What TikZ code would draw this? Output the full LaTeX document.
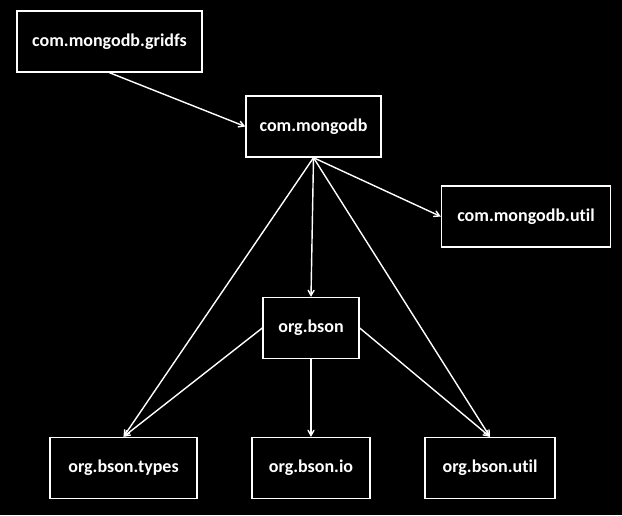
\documentclass[tikz,border=0pt]{standalone}
\usepackage{fontspec}
\setmainfont{Carlito}[Ligatures=NoCommon]
\usetikzlibrary{arrows}

\begin{document}
\begin{tikzpicture}[x=1pt,y=-1pt,->,>=angle 60,line width=1.4pt,white,
                    pkg/.style={draw,rectangle,minimum height=61pt,inner sep=0pt,
                                font=\fontsize{18}{21}\selectfont\bfseries}]

\fill[black] (0,0) rectangle (622,515);
\useasboundingbox (0,0) rectangle (622,515);

\node[pkg,minimum width=185pt] (gridfs) at (109.5,41.5)  {com.mongodb.gridfs};
\node[pkg,minimum width=135pt] (mongo)  at (313.5,126.5) {com.mongodb};
\node[pkg,minimum width=169pt] (mutil)  at (526,216.5)   {com.mongodb.util};
\node[pkg,minimum width=96pt]  (bson)   at (311,328)     {org.bson};
\node[pkg,minimum width=147pt] (types)  at (123.5,468)   {org.bson.types};
\node[pkg,minimum width=118pt] (io)     at (311,468)     {org.bson.io};
\node[pkg,minimum width=130pt] (butil)  at (490,468)     {org.bson.util};

  \path
	(gridfs.south) edge (mongo.west)
	(mongo.south) edge (mutil.west)
	              edge (bson.north)
	              edge (types.north)
	              edge (butil.north)
	(bson.west)  edge (types.north)
	(bson.south) edge (io.north)
	(bson.east)  edge (butil.north);
\end{tikzpicture}
\end{document}
